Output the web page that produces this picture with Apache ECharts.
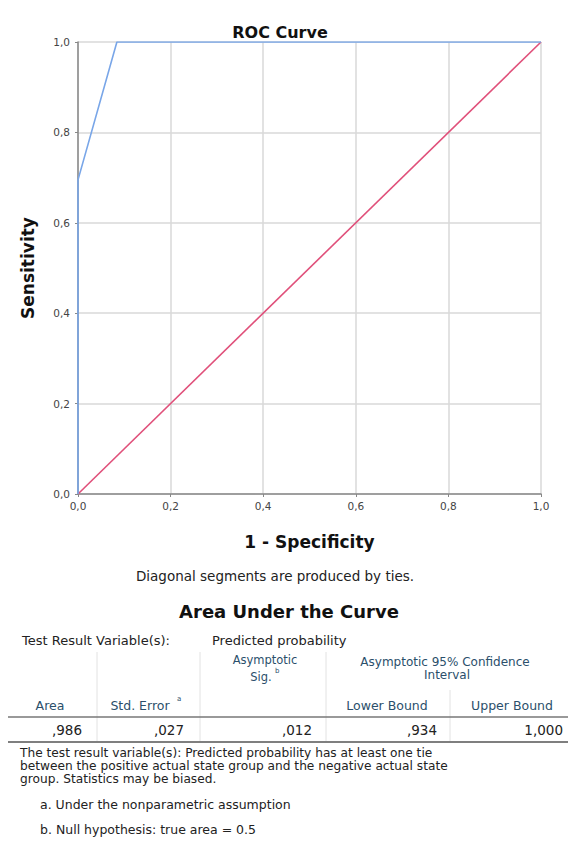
<!DOCTYPE html>
<html><head><meta charset="utf-8">
<script src="https://cdn.jsdelivr.net/npm/echarts@6/dist/echarts.min.js"></script>
<style>html,body{margin:0;padding:0;background:#fff;}#c{width:576px;height:841px;}</style>
</head><body><div id="c"></div>
<script>
// ROC curve points (1 - specificity, sensitivity)
const rocX = [0, 0, 0.084, 1];
const rocY = [0, 0.695, 1, 1];
// Reference (chance) line
const refX = [0, 1];
const refY = [0, 1];

// AUC table
const tableTitle = 'Area Under the Curve';
const testVarLabel = 'Test Result Variable(s):';
const testVarName = 'Predicted probability';
const colHeaders = ['Area', 'Std. Error', 'Asymptotic', 'Lower Bound', 'Upper Bound'];
const colSup = ['', 'a', 'b', '', ''];
const tableValues = [',986', ',027', ',012', ',934', '1,000'];
const footnotes = [
  'The test result variable(s): Predicted probability has at least one tie',
  'between the positive actual state group and the negative actual state',
  'group. Statistics may be biased.'
];
const noteA = 'a. Under the nonparametric assumption';
const noteB = 'b. Null hypothesis: true area = 0.5';

const FONT = 'DejaVu Sans';
const HEAD = '#2b4f6b';
const chart = echarts.init(document.getElementById('c'), null, {renderer: 'svg'});

function fmt(v){ return v.toFixed(1).replace('.', ','); }

const g = [];
function txt(x, y, s, opt){
  g.push({type:'text', x:x, y:y, style:Object.assign({text:s, fontFamily:FONT, fontSize:13, fill:'#222', textVerticalAlign:'middle'}, opt||{})});
}
function line(x1,y1,x2,y2,color,w){
  g.push({type:'line', shape:{x1:x1,y1:y1,x2:x2,y2:y2}, style:{stroke:color, lineWidth:w}});
}
txt(275, 576, 'Diagonal segments are produced by ties.', {textAlign:'center', fontSize:13.5});
txt(289, 611, tableTitle, {textAlign:'center', fontSize:18, fontWeight:'bold', fill:'#111'});
txt(22, 640, testVarLabel, {fontSize:13});
txt(212, 640, testVarName, {fontSize:13});
// header
txt(265, 660, colHeaders[2], {textAlign:'center', fontSize:11.5, fill:HEAD});
txt(261, 677, 'Sig.', {textAlign:'center', fontSize:11.5, fill:HEAD});
txt(275, 674, colSup[2], {textAlign:'left', fontSize:7, fill:HEAD, textVerticalAlign:'bottom'});
txt(445, 662, 'Asymptotic 95% Confidence', {textAlign:'center', fontSize:12, fill:HEAD});
txt(447, 675, 'Interval', {textAlign:'center', fontSize:12, fill:HEAD});
txt(50, 705, colHeaders[0], {textAlign:'center', fontSize:12.5, fill:HEAD});
txt(140, 705, colHeaders[1], {textAlign:'center', fontSize:12.5, fill:HEAD});
txt(177, 702, colSup[1], {textAlign:'left', fontSize:7, fill:HEAD, textVerticalAlign:'bottom'});
txt(387, 705, colHeaders[3], {textAlign:'center', fontSize:12.5, fill:HEAD});
txt(512, 705, colHeaders[4], {textAlign:'center', fontSize:12.5, fill:HEAD});
// separators
line(97, 652, 97, 741, '#e2e2e2', 1);
line(200, 652, 200, 741, '#e2e2e2', 1);
line(326, 652, 326, 741, '#e2e2e2', 1);
line(450, 690, 450, 741, '#e2e2e2', 1);
line(8, 717, 568, 717, '#777', 1.5);
line(8, 742, 568, 742, '#555', 1.5);
// values
const valRight = [82, 184, 312, 437, 563];
tableValues.forEach((v,i)=>txt(valRight[i], 730, v, {textAlign:'right', fontSize:13.5}));
footnotes.forEach((s,i)=>txt(20, 753 + i*13, s, {fontSize:12.2}));
txt(40, 804, noteA, {fontSize:12.5});
txt(40, 829, noteB, {fontSize:12.5});

chart.setOption({
  animation:false,
  backgroundColor:'#fff',
  title:{text:'ROC Curve', left:275, top:19, textAlign:'center',
    textStyle:{fontFamily:FONT, fontSize:16, fontWeight:'bold', color:'#111'}},
  grid:{left:78, right:35, top:42, bottom:347},
  xAxis:{type:'value', min:0, max:1, interval:0.2,
    name:'1 - Specificity', nameLocation:'middle', nameGap:39,
    nameTextStyle:{fontFamily:FONT, fontSize:17, fontWeight:'bold', color:'#111'},
    axisLine:{lineStyle:{color:'#888', width:1.5}},
    axisTick:{show:true, length:3, lineStyle:{color:'#888'}},
    axisLabel:{formatter:fmt, fontFamily:FONT, fontSize:10.5, color:'#444', margin:6},
    splitLine:{lineStyle:{color:'#d8d8d8', width:1.5}}},
  yAxis:{type:'value', min:0, max:1, interval:0.2,
    name:'Sensitivity', nameLocation:'middle', nameGap:42, nameRotate:90,
    nameTextStyle:{fontFamily:FONT, fontSize:17, fontWeight:'bold', color:'#111'},
    axisLine:{show:true, lineStyle:{color:'#888', width:1.5}},
    axisTick:{show:true, length:3, lineStyle:{color:'#888'}},
    axisLabel:{formatter:fmt, fontFamily:FONT, fontSize:10.5, color:'#444', margin:8},
    splitLine:{lineStyle:{color:'#d8d8d8', width:1.5}}},
  series:[
    {type:'line', data:refX.map((x,i)=>[x, refY[i]]), symbol:'none',
      lineStyle:{color:'#e0507a', width:1.6}, z:3},
    {type:'line', data:rocX.map((x,i)=>[x, rocY[i]]), symbol:'none',
      lineStyle:{color:'#79a6e8', width:1.6}, z:4}
  ],
  graphic:g
});
</script></body></html>
